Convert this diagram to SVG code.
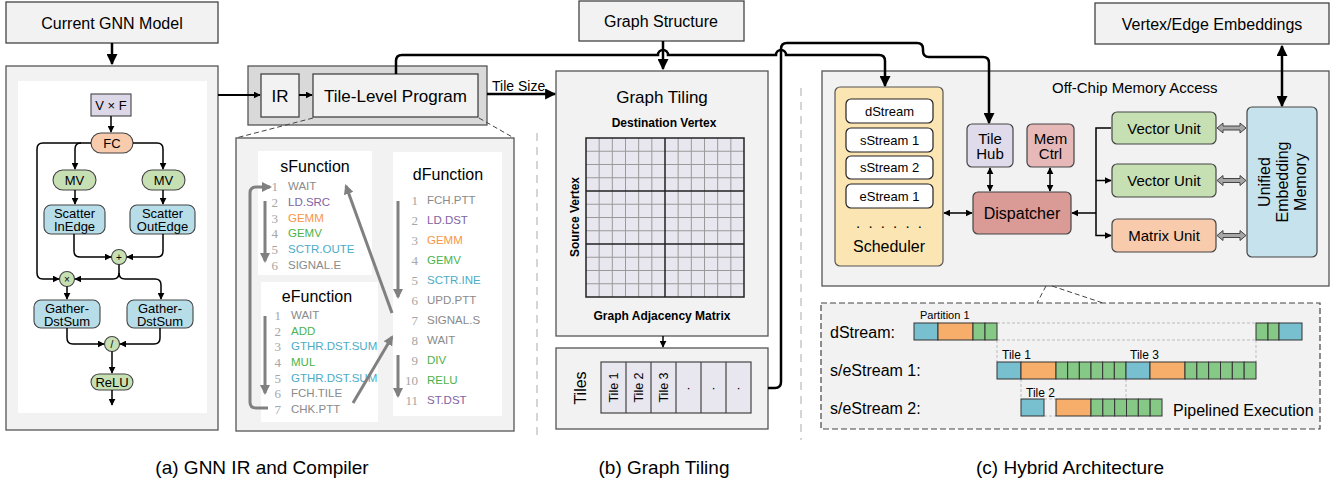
<svg xmlns="http://www.w3.org/2000/svg" width="1343" height="480" viewBox="0 0 1343 480">
<defs>
<style>
text{font-family:"Liberation Sans",Arial,sans-serif;fill:#000}
.t{text-anchor:middle;dominant-baseline:central}
.panel{fill:#f2f2f2;stroke:#555;stroke-width:1.3}
.hdr{fill:#f2f2f2;stroke:#444;stroke-width:1.3}
.wbox{fill:#fff}
.ln{fill:none;stroke:#000;stroke-width:1.5}
.mid{fill:none;stroke:#000;stroke-width:2}
.thick{fill:none;stroke:#000;stroke-width:2.5}
.ga{fill:none;stroke:#808080;stroke-width:3}
.nd{stroke:#444;stroke-width:1.1}
.green{fill:#c6e0b4}.blue{fill:#b7dde8}.peach{fill:#f8cbad}.lav{fill:#ddd8e8}
.num{font-family:"Liberation Serif",serif;font-size:13px;fill:#a6a6a6;text-anchor:end;dominant-baseline:central}
.code{font-size:11.5px;dominant-baseline:central}
.gr{fill:#8a8a8a}.pu{fill:#8064a2}.or{fill:#f79646}.gn{fill:#4cb34c}.bl{fill:#4bacc6}
.sep{stroke:#c8c8c8;stroke-width:1.5;stroke-dasharray:8 6}
.cell{fill:#e8e6ee}
.gthin{stroke:#9a9a9a;stroke-width:1;fill:none}
.gthick{stroke:#222;stroke-width:1.5;fill:none}
.pc{stroke:#333;stroke-width:1}
.pb{fill:#78bfd0}.po{fill:#f7ae6b}.pg{fill:#86c986}
.dot{stroke:#bbb;stroke-width:1;stroke-dasharray:3 2;fill:none}
.blk{fill:#a6a6a6;stroke:#444;stroke-width:1}
</style>
<marker id="a" viewBox="0 0 10 10" refX="9" refY="5" markerWidth="7" markerHeight="7" markerUnits="userSpaceOnUse" orient="auto-start-reverse"><path d="M0,0 L10,5 L0,10 z" fill="#000"/></marker>
<marker id="ab" viewBox="0 0 10 10" refX="9" refY="5" markerWidth="11" markerHeight="11" markerUnits="userSpaceOnUse" orient="auto-start-reverse"><path d="M0,0 L10,5 L0,10 z" fill="#000"/></marker>
<marker id="ag" viewBox="0 0 10 10" refX="8" refY="5" markerWidth="10" markerHeight="10" markerUnits="userSpaceOnUse" orient="auto-start-reverse"><path d="M0,0 L10,5 L0,10 z" fill="#808080"/></marker>
</defs>

<!-- separators -->
<line class="sep" x1="537" y1="133" x2="537" y2="440"/>
<line class="sep" x1="801" y1="88" x2="801" y2="440"/>

<!-- (a) -->
<g id="current-gnn-model">
<rect class="hdr" x="6" y="2" width="212" height="41"/>
<text class="t" x="112" y="23" font-size="16">Current GNN Model</text>
</g>
<g id="gnn-panel">
<rect class="panel" x="6" y="66" width="212" height="364"/>
<rect class="wbox" x="18" y="81" width="189" height="332"/>
</g>
<g id="vxf"><rect class="nd lav" x="91" y="94" width="40" height="22"/><text class="t" x="111" y="105" font-size="13">V × F</text></g>
<g id="fc"><rect class="nd peach" x="91" y="133" width="42" height="20" rx="10"/><text class="t" x="112" y="143" font-size="13">FC</text></g>
<g id="mv1"><rect class="nd green" x="53" y="170" width="43" height="20" rx="10"/><text class="t" x="74.5" y="180" font-size="13">MV</text></g>
<g id="mv2"><rect class="nd green" x="142" y="170" width="43" height="20" rx="10"/><text class="t" x="163.5" y="180" font-size="13">MV</text></g>
<g id="scatter-in"><rect class="nd blue" x="44" y="205" width="61" height="29" rx="7"/><text class="t" x="74.5" y="213" font-size="13">Scatter</text><text class="t" x="74.5" y="226" font-size="13">InEdge</text></g>
<g id="scatter-out"><rect class="nd blue" x="130" y="205" width="65" height="29" rx="7"/><text class="t" x="162.5" y="213" font-size="13">Scatter</text><text class="t" x="162.5" y="226" font-size="13">OutEdge</text></g>
<g id="plus"><circle class="nd green" cx="119" cy="257" r="7.5"/><text class="t" x="119" y="257" font-size="10">+</text></g>
<g id="times"><circle class="nd green" cx="67" cy="279" r="7.5"/><text class="t" x="67" y="279" font-size="10">×</text></g>
<g id="gather1"><rect class="nd blue" x="34" y="300" width="66" height="28" rx="7"/><text class="t" x="67" y="308" font-size="13">Gather-</text><text class="t" x="67" y="321" font-size="13">DstSum</text></g>
<g id="gather2"><rect class="nd blue" x="127" y="300" width="66" height="28" rx="7"/><text class="t" x="160" y="308" font-size="13">Gather-</text><text class="t" x="160" y="321" font-size="13">DstSum</text></g>
<g id="div"><circle class="nd green" cx="112" cy="344" r="7.5"/><text class="t" x="112" y="344" font-size="10">/</text></g>
<g id="relu"><rect class="nd green" x="91" y="374" width="42" height="16" rx="8"/><text class="t" x="112" y="382" font-size="13">ReLU</text></g>

<!-- IR panel -->
<g id="ir-panel"><rect fill="#d9d9d9" stroke="#555" stroke-width="1.3" x="248" y="66" width="239" height="59"/></g>
<g id="ir"><rect class="hdr" x="261" y="74" width="38" height="43"/><text class="t" x="280" y="96" font-size="17">IR</text></g>
<g id="tlp"><rect class="hdr" x="313" y="74" width="165" height="43"/><text class="t" x="395.5" y="96" font-size="17">Tile-Level Program</text></g>

<!-- code panel -->
<g id="code-panel">
<line x1="313" y1="118" x2="236" y2="138" stroke="#444" stroke-width="1" stroke-dasharray="5 3"/>
<line x1="479" y1="118" x2="514" y2="138" stroke="#444" stroke-width="1" stroke-dasharray="5 3"/>
<rect class="panel" x="236" y="138" width="278" height="293"/>
</g>
<g id="sfunction">
<rect class="wbox" x="258" y="151" width="114" height="124"/>
<text class="t" x="315" y="166" font-size="16">sFunction</text>
<text class="num" x="278" y="186">1</text><text class="code gr" x="288" y="186">WAIT</text>
<text class="num" x="278" y="202">2</text><text class="code pu" x="288" y="202">LD.SRC</text>
<text class="num" x="278" y="218">3</text><text class="code or" x="288" y="218">GEMM</text>
<text class="num" x="278" y="233">4</text><text class="code gn" x="288" y="233">GEMV</text>
<text class="num" x="278" y="249">5</text><text class="code bl" x="288" y="249">SCTR.OUTE</text>
<text class="num" x="278" y="265">6</text><text class="code gr" x="288" y="265">SIGNAL.E</text>
</g>
<g id="efunction">
<rect class="wbox" x="261" y="282" width="117" height="140"/>
<text class="t" x="317" y="296" font-size="16">eFunction</text>
<text class="num" x="281" y="315">1</text><text class="code gr" x="291" y="315">WAIT</text>
<text class="num" x="281" y="331">2</text><text class="code gn" x="291" y="331">ADD</text>
<text class="num" x="281" y="346">3</text><text class="code bl" x="291" y="346">GTHR.DST.SUM</text>
<text class="num" x="281" y="362">4</text><text class="code gn" x="291" y="362">MUL</text>
<text class="num" x="281" y="378">5</text><text class="code bl" x="291" y="378">GTHR.DST.SUM</text>
<text class="num" x="281" y="393">6</text><text class="code gr" x="291" y="393">FCH.TILE</text>
<text class="num" x="281" y="409">7</text><text class="code gr" x="291" y="409">CHK.PTT</text>
</g>
<g id="dfunction">
<rect class="wbox" x="393" y="152" width="109" height="264"/>
<text class="t" x="448" y="174" font-size="16">dFunction</text>
<text class="num" x="418" y="200">1</text><text class="code gr" x="427" y="200">FCH.PTT</text>
<text class="num" x="418" y="220">2</text><text class="code pu" x="427" y="220">LD.DST</text>
<text class="num" x="418" y="240">3</text><text class="code or" x="427" y="240">GEMM</text>
<text class="num" x="418" y="260">4</text><text class="code gn" x="427" y="260">GEMV</text>
<text class="num" x="418" y="280">5</text><text class="code bl" x="427" y="280">SCTR.INE</text>
<text class="num" x="418" y="300">6</text><text class="code gr" x="427" y="300">UPD.PTT</text>
<text class="num" x="418" y="320">7</text><text class="code gr" x="427" y="320">SIGNAL.S</text>
<text class="num" x="418" y="340">8</text><text class="code gr" x="427" y="340">WAIT</text>
<text class="num" x="418" y="360">9</text><text class="code gn" x="427" y="360">DIV</text>
<text class="num" x="418" y="380">10</text><text class="code gn" x="427" y="380">RELU</text>
<text class="num" x="418" y="400">11</text><text class="code pu" x="427" y="400">ST.DST</text>
</g>

<!-- (b) -->
<g id="graph-structure"><rect class="hdr" x="579" y="1" width="165" height="40"/><text class="t" x="661" y="21" font-size="16">Graph Structure</text></g>
<g id="graph-tiling">
<rect class="panel" x="556" y="71" width="212" height="265"/>
<text class="t" x="662" y="97" font-size="17">Graph Tiling</text>
<text class="t" x="664" y="123" font-size="12" font-weight="bold">Destination Vertex</text>
<rect class="cell" x="586" y="138" width="158" height="159"/>
<path class="gthin" d="M599.17 138V297M612.33 138V297M625.5 138V297M638.67 138V297M651.83 138V297M678.17 138V297M691.33 138V297M704.5 138V297M717.67 138V297M730.83 138V297M586 151.25H744M586 164.5H744M586 177.75H744M586 204.25H744M586 217.5H744M586 230.75H744M586 257.25H744M586 270.5H744M586 283.75H744"/>
<path class="gthick" d="M586 138H744V297H586ZM665 138V297M586 191H744M586 244H744"/>
<text class="t" x="575" y="217" font-size="12" font-weight="bold" transform="rotate(-90 575 217)">Source Vertex</text>
<text class="t" x="662" y="316" font-size="12" font-weight="bold">Graph Adjacency Matrix</text>
</g>
<g id="tiles">
<rect class="panel" x="556" y="348" width="212" height="81"/>
<text class="t" x="580" y="388" font-size="16" transform="rotate(-90 580 388)">Tiles</text>
<rect class="cell" x="601" y="362" width="150" height="51" stroke="#444" stroke-width="1.2"/>
<path stroke="#444" stroke-width="1.2" d="M626 362V413M651 362V413M676 362V413M701 362V413M726 362V413"/>
<text class="t" x="613.5" y="387.5" font-size="12.5" transform="rotate(-90 613.5 387.5)">Tile 1</text>
<text class="t" x="638.5" y="387.5" font-size="12.5" transform="rotate(-90 638.5 387.5)">Tile 2</text>
<text class="t" x="663.5" y="387.5" font-size="12.5" transform="rotate(-90 663.5 387.5)">Tile 3</text>
<text class="t" x="688.5" y="387.5" font-size="12.5">·</text>
<text class="t" x="713.5" y="387.5" font-size="12.5">·</text>
<text class="t" x="738.5" y="387.5" font-size="12.5">·</text>
</g>

<!-- (c) -->
<g id="vertex-edge-embeddings"><rect class="hdr" x="1095" y="3" width="234" height="41"/><text class="t" x="1212" y="24" font-size="16">Vertex/Edge Embeddings</text></g>
<g id="offchip">
<rect class="panel" x="822" y="71" width="507" height="215" stroke="#777"/>
<text x="1052" y="87" font-size="15" dominant-baseline="central">Off-Chip Memory Access</text>
</g>
<g id="scheduler">
<rect x="835" y="87" width="108" height="179" rx="5" fill="#fbe5b2" stroke="#555" stroke-width="1.2"/>
<rect x="846" y="99" width="87" height="24" rx="5" fill="#fff" stroke="#222" stroke-width="1.2"/><text class="t" x="889.5" y="111" font-size="13">dStream</text>
<rect x="846" y="128" width="87" height="24" rx="5" fill="#fff" stroke="#222" stroke-width="1.2"/><text class="t" x="889.5" y="140" font-size="13">sStream 1</text>
<rect x="846" y="156" width="87" height="23" rx="5" fill="#fff" stroke="#222" stroke-width="1.2"/><text class="t" x="889.5" y="167.5" font-size="13">sStream 2</text>
<rect x="846" y="184" width="87" height="24" rx="5" fill="#fff" stroke="#222" stroke-width="1.2"/><text class="t" x="889.5" y="196" font-size="13">eStream 1</text>
<text class="t" x="890" y="222" font-size="15" letter-spacing="2">. . . . . .</text>
<text class="t" x="889" y="246" font-size="16">Scheduler</text>
</g>
<g id="tile-hub"><rect x="967" y="124" width="46" height="43" rx="5" fill="#e0dbea" stroke="#444" stroke-width="1.2"/><text class="t" x="990" y="138" font-size="15">Tile</text><text class="t" x="990" y="153" font-size="15">Hub</text></g>
<g id="mem-ctrl"><rect x="1027" y="124" width="47" height="43" rx="5" fill="#e6b9b8" stroke="#444" stroke-width="1.2"/><text class="t" x="1050.5" y="138" font-size="15">Mem</text><text class="t" x="1050.5" y="153" font-size="15">Ctrl</text></g>
<g id="dispatcher"><rect x="973" y="192" width="98" height="42" rx="5" fill="#da9a96" stroke="#444" stroke-width="1.2"/><text class="t" x="1022" y="213" font-size="16">Dispatcher</text></g>
<g id="vector-unit-1"><rect x="1112" y="112" width="104" height="32" rx="5" fill="#c6e0b4" stroke="#444" stroke-width="1.2"/><text class="t" x="1164" y="128" font-size="15">Vector Unit</text></g>
<g id="vector-unit-2"><rect x="1112" y="164" width="104" height="33" rx="5" fill="#c6e0b4" stroke="#444" stroke-width="1.2"/><text class="t" x="1164" y="180.5" font-size="15">Vector Unit</text></g>
<g id="matrix-unit"><rect x="1112" y="219" width="104" height="33" rx="5" fill="#f8cbad" stroke="#444" stroke-width="1.2"/><text class="t" x="1164" y="235.5" font-size="15">Matrix Unit</text></g>
<g id="uem"><rect x="1247" y="107" width="70" height="150" rx="5" fill="#c6e3ed" stroke="#444" stroke-width="1.2"/>
<g transform="rotate(-90 1282 182)"><text class="t" x="1282" y="164" font-size="16">Unified</text><text class="t" x="1282" y="182" font-size="16">Embedding</text><text class="t" x="1282" y="200" font-size="16">Memory</text></g></g>

<!-- pipeline -->
<g id="pipeline">
<line x1="1046" y1="286" x2="1037" y2="303" stroke="#444" stroke-width="1" stroke-dasharray="5 3"/>
<line x1="1052" y1="286" x2="1103" y2="303" stroke="#444" stroke-width="1" stroke-dasharray="5 3"/>
<rect x="821" y="303" width="499" height="126" fill="#f2f2f2" stroke="#444" stroke-width="1.2" stroke-dasharray="6 3"/>
<text x="830" y="332" font-size="16" dominant-baseline="central">dStream:</text>
<text x="830" y="370" font-size="16" dominant-baseline="central">s/eStream 1:</text>
<text x="830" y="408" font-size="16" dominant-baseline="central">s/eStream 2:</text>
<text x="920" y="315" font-size="11" dominant-baseline="central">Partition 1</text>
<text x="1002" y="355" font-size="12" dominant-baseline="central">Tile 1</text>
<text x="1130" y="355" font-size="12" dominant-baseline="central">Tile 3</text>
<text x="1026" y="393" font-size="12" dominant-baseline="central">Tile 2</text>
<text x="1173" y="410" font-size="16" dominant-baseline="central">Pipelined Execution</text>
<path class="dot" d="M997 323H1256M997 340H1256M997 340V362M1256 340V362M1021 379V399M1126 379V397M1044 399H1056M1044 416H1056"/>
<g class="pc">
<rect class="pb" x="914" y="323" width="24" height="17"/><rect class="po" x="938" y="323" width="35" height="17"/><rect class="pg" x="973" y="323" width="12" height="17"/><rect class="pg" x="985" y="323" width="12" height="17"/>
<rect class="pg" x="1256" y="323" width="12" height="17"/><rect class="pg" x="1268" y="323" width="11" height="17"/><rect class="pb" x="1279" y="323" width="23" height="17"/>
<rect class="pb" x="997" y="362" width="24" height="17"/><rect class="po" x="1021" y="362" width="35" height="17"/>
<rect class="pg" x="1056" y="362" width="11.67" height="17"/><rect class="pg" x="1067.67" y="362" width="11.67" height="17"/><rect class="pg" x="1079.33" y="362" width="11.67" height="17"/><rect class="pg" x="1091" y="362" width="11.67" height="17"/><rect class="pg" x="1102.67" y="362" width="11.67" height="17"/><rect class="pg" x="1114.33" y="362" width="11.67" height="17"/>
<rect class="pb" x="1126" y="362" width="24" height="17"/><rect class="po" x="1150" y="362" width="35" height="17"/>
<rect class="pg" x="1185" y="362" width="11.83" height="17"/><rect class="pg" x="1196.83" y="362" width="11.83" height="17"/><rect class="pg" x="1208.67" y="362" width="11.83" height="17"/><rect class="pg" x="1220.5" y="362" width="11.83" height="17"/><rect class="pg" x="1232.33" y="362" width="11.83" height="17"/><rect class="pg" x="1244.17" y="362" width="11.83" height="17"/>
<rect class="pb" x="1021" y="399" width="23" height="17"/><rect class="po" x="1056" y="399" width="35" height="17"/>
<rect class="pg" x="1091" y="399" width="11.83" height="17"/><rect class="pg" x="1102.83" y="399" width="11.83" height="17"/><rect class="pg" x="1114.67" y="399" width="11.83" height="17"/><rect class="pg" x="1126.5" y="399" width="11.83" height="17"/><rect class="pg" x="1138.33" y="399" width="11.83" height="17"/><rect class="pg" x="1150.17" y="399" width="11.83" height="17"/>
</g>
</g>

<!-- captions -->
<text class="t" x="262" y="467" font-size="19">(a) GNN IR and Compiler</text>
<text class="t" x="664" y="467" font-size="19">(b) Graph Tiling</text>
<text class="t" x="1070" y="467" font-size="19">(c) Hybrid Architecture</text>

<!-- connectors -->
<g id="connectors">
<path class="thick" d="M112 43V64" marker-end="url(#ab)"/>
<path class="ln" d="M111 116V132" marker-end="url(#a)"/>
<path class="ln" d="M91 143H43Q37 143 37 149V273Q37 279 43 279H59" marker-end="url(#a)"/>
<path class="ln" d="M81 143Q75 143 75 149V169" marker-end="url(#a)"/>
<path class="ln" d="M133 143H157Q163 143 163 149V169" marker-end="url(#a)"/>
<path class="ln" d="M75 190V204" marker-end="url(#a)"/>
<path class="ln" d="M163 190V204" marker-end="url(#a)"/>
<path class="ln" d="M74 234V251Q74 257 80 257H111" marker-end="url(#a)"/>
<path class="ln" d="M163 234V251Q163 257 157 257H127" marker-end="url(#a)"/>
<path class="ln" d="M119 264.5V273Q119 279 113 279H75" marker-end="url(#a)"/>
<path class="ln" d="M119 273Q119 279 125 279H155Q161 279 161 285V299" marker-end="url(#a)"/>
<path class="ln" d="M67 286.5V299" marker-end="url(#a)"/>
<path class="ln" d="M67 328V338Q67 344 73 344H104" marker-end="url(#a)"/>
<path class="ln" d="M160 328V338Q160 344 154 344H120" marker-end="url(#a)"/>
<path class="ln" d="M112 351.5V373" marker-end="url(#a)"/>
<path class="ln" d="M112 390V405" marker-end="url(#a)"/>
<path class="mid" d="M218 95H260" marker-end="url(#a)"/>
<path class="mid" d="M299 95H312" marker-end="url(#a)"/>
<path class="thick" d="M487 94H555" marker-end="url(#ab)"/>
<text x="492" y="86" font-size="14" dominant-baseline="central">Tile Size</text>
<path class="ga" d="M265 201V261" marker-end="url(#ag)"/>
<path class="ga" d="M265 316V393" marker-end="url(#ag)"/>
<path class="ga" d="M268 408H256Q250 408 250 402V193Q250 187 256 187H270" marker-end="url(#ag)"/>
<path class="ga" d="M392 313L346 186" marker-end="url(#ag)"/>
<path class="ga" d="M353 403L392 337" marker-end="url(#ag)"/>
<path class="ga" d="M398 201V297" marker-end="url(#ag)"/>
<path class="ga" d="M398 355V396" marker-end="url(#ag)"/>
<path class="thick" d="M663 41V69" marker-end="url(#ab)"/>
<path class="ln" d="M663 336V347" marker-end="url(#a)"/>
<path class="thick" d="M396 74V61Q396 55 402 55H658a5 5 0 0 1 10 0H776a5 5 0 0 1 10 0H879Q885 55 885 61V86" marker-end="url(#ab)"/>
<path class="thick" d="M768 388H775Q781 388 781 382V49Q781 43 787 43H917Q923 43 923 49V51Q923 57 929 57H983Q989 57 989 63V123" marker-end="url(#ab)"/>
<path class="thick" d="M1282 46V106" marker-start="url(#ab)" marker-end="url(#ab)"/>
<path class="ln" d="M944 213H972" marker-start="url(#a)" marker-end="url(#a)"/>
<path class="ln" d="M990 168V191" marker-start="url(#a)" marker-end="url(#a)"/>
<path class="ln" d="M1050 168V191" marker-start="url(#a)" marker-end="url(#a)"/>
<path class="ln" d="M1096 213H1072" marker-end="url(#a)"/>
<path class="ln" d="M1111 128H1096V235.5H1111" marker-end="url(#a)"/>
<path class="ln" d="M1096 180.5H1111" marker-end="url(#a)"/>
<polygon class="blk" points="1217,128 1223,123 1223,126 1240,126 1240,123 1246,128 1240,133 1240,130 1223,130 1223,133"/>
<polygon class="blk" points="1217,180.5 1223,175.5 1223,178.5 1240,178.5 1240,175.5 1246,180.5 1240,185.5 1240,182.5 1223,182.5 1223,185.5"/>
<polygon class="blk" points="1217,235.5 1223,230.5 1223,233.5 1240,233.5 1240,230.5 1246,235.5 1240,240.5 1240,237.5 1223,237.5 1223,240.5"/>
</g>
</svg>
